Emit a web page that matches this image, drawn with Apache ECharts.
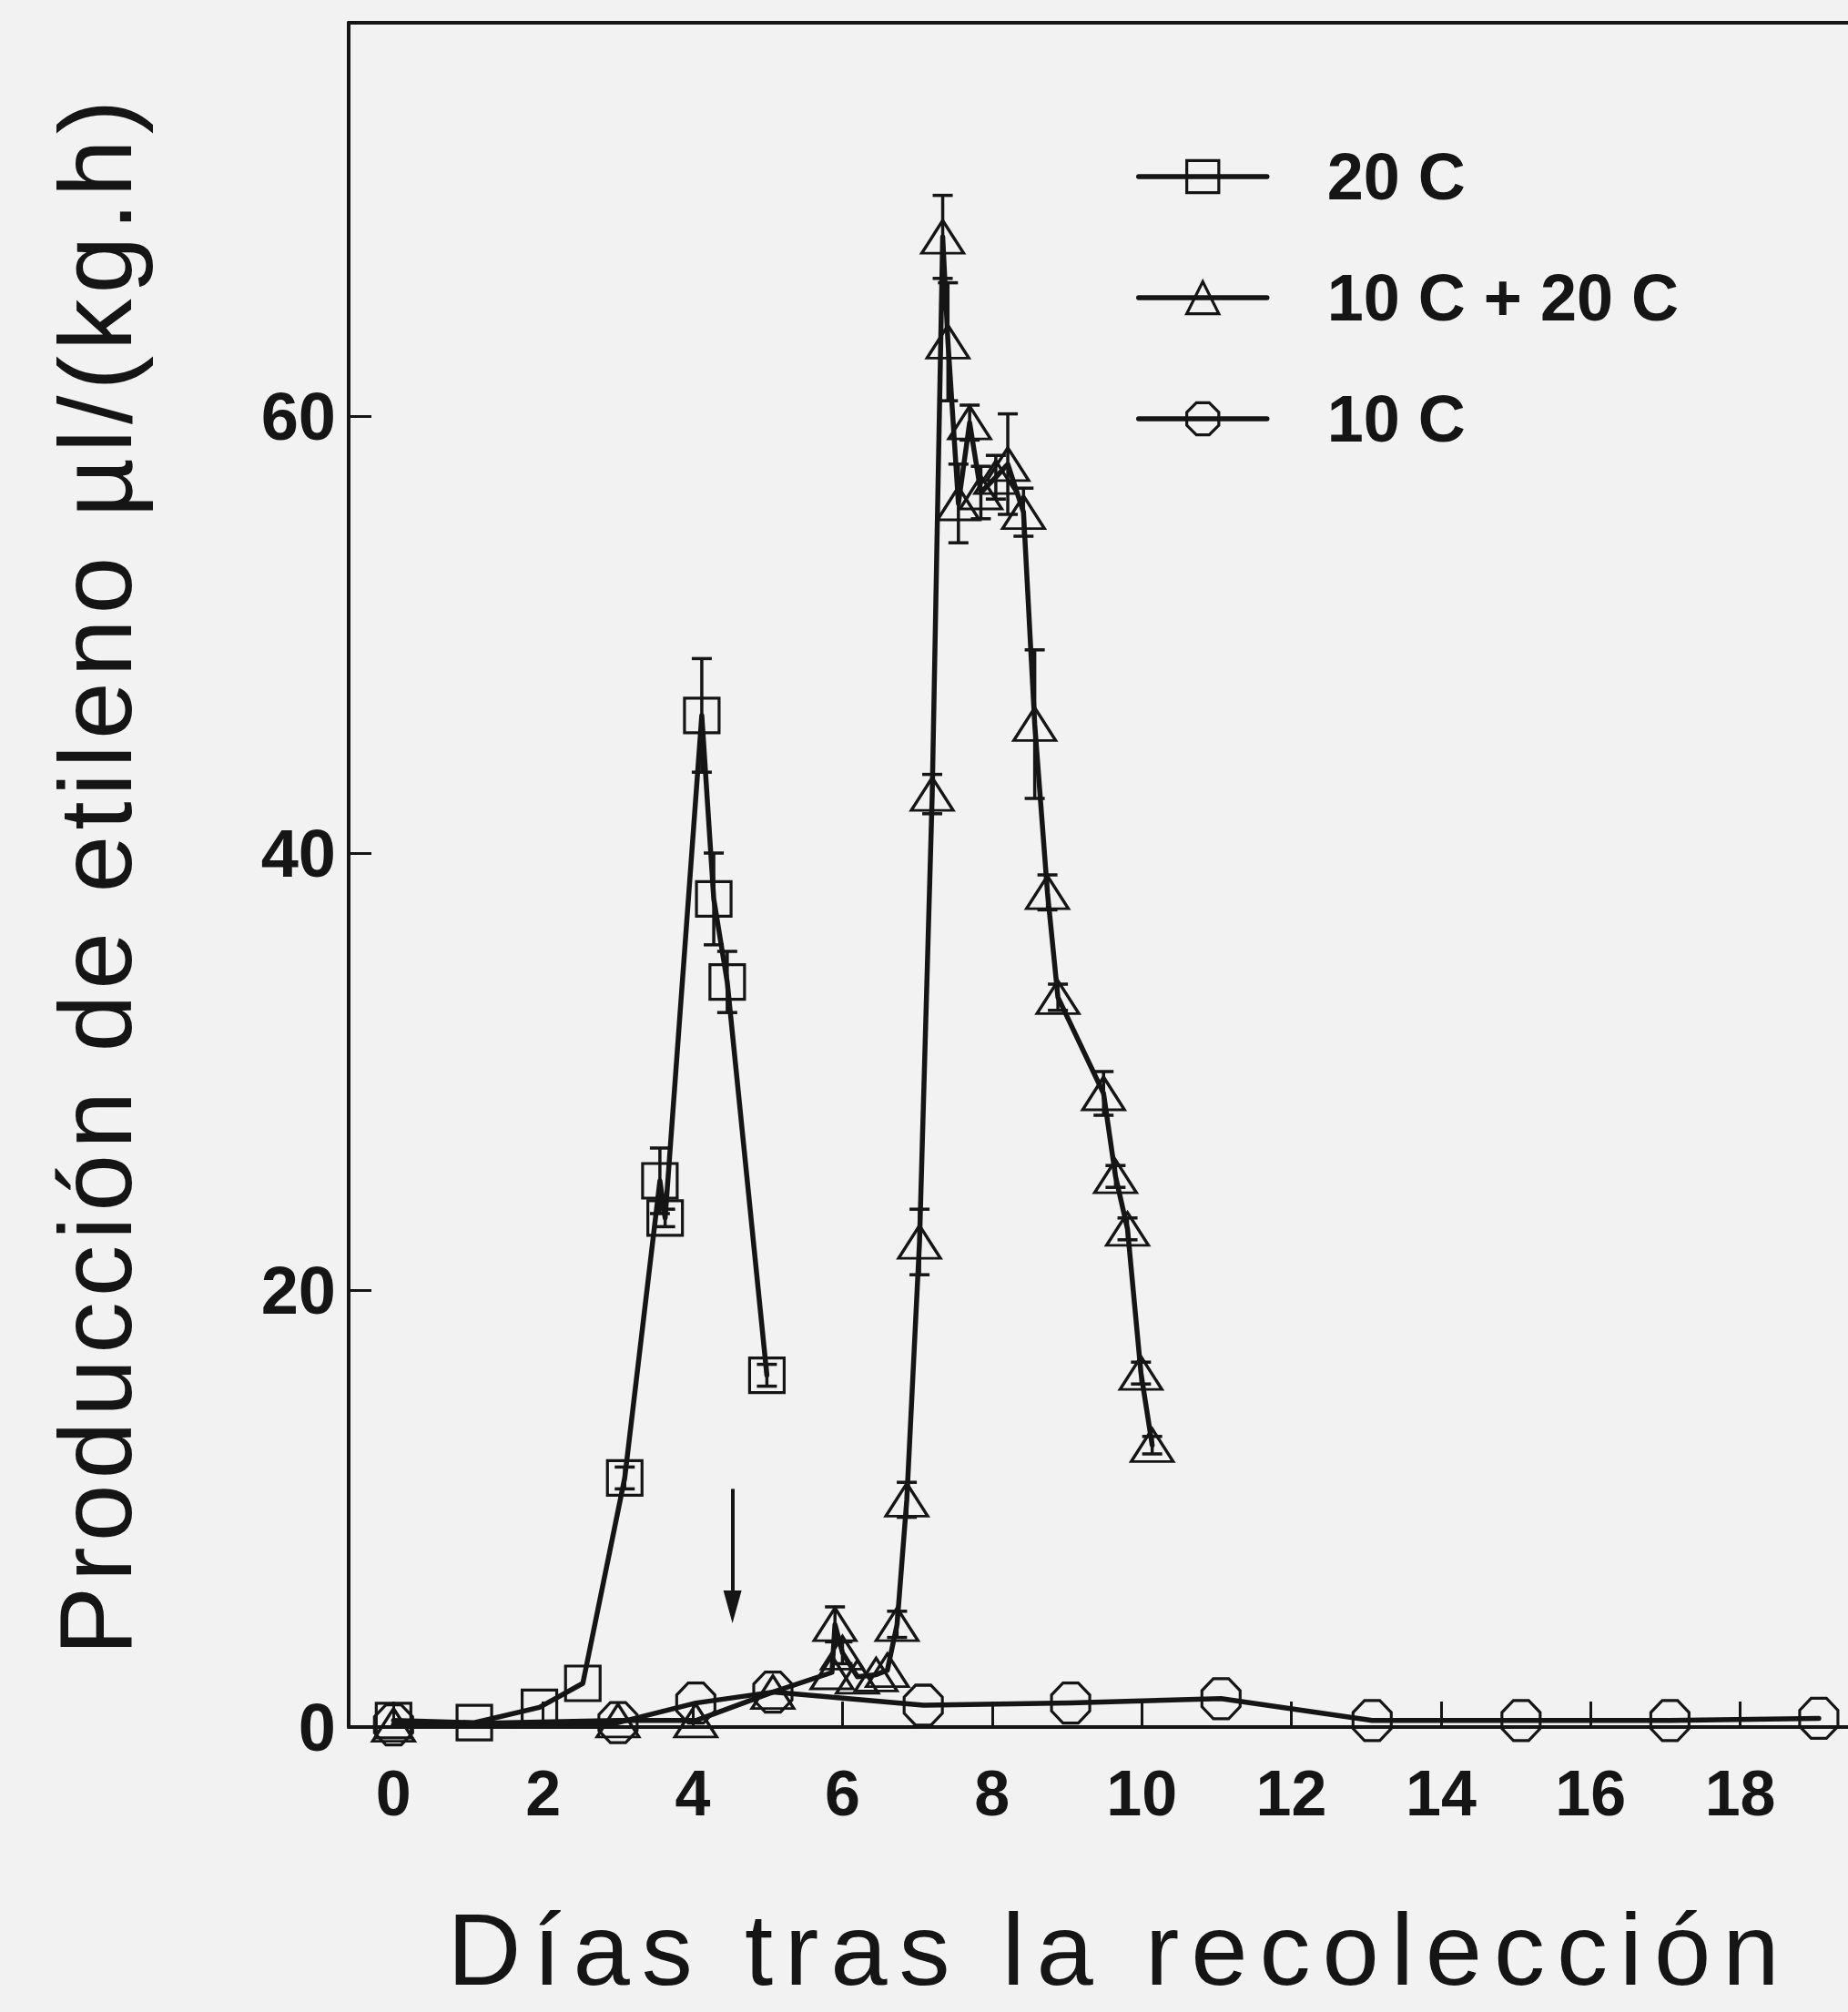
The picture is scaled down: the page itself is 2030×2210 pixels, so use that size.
<!DOCTYPE html>
<html>
<head>
<meta charset="utf-8">
<script src="https://cdn.jsdelivr.net/npm/echarts@6/dist/echarts.min.js"></script>
<style>
  html, body { margin: 0; padding: 0; background: #f2f2f2; }
  #chart { width: 2030px; height: 2210px; }
  /* wide tracking on the two axis titles */
  #chart text[style*="112px"] { letter-spacing: 13px; }
  #chart text[style*="113px"] { letter-spacing: 6px; }
</style>
</head>
<body>
<div id="chart"></div>
<script>
// Ethylene production (µl/(kg.h)) against days after harvest, three storage regimes.

// 20 C
const dias20     = [0, 1.08, 1.95, 2.53, 3.09, 3.56, 3.63, 4.12, 4.28, 4.46, 4.99];
const etileno20  = [0.3, 0.2, 0.9, 2.0, 11.4, 25.0, 23.3, 46.3, 37.9, 34.1, 16.1];
const error20    = [0, 0, 0, 0, 0.5, 1.5, 0.4, 2.6, 2.1, 1.4, 0.5];

// 10 C + 20 C
const dias1020    = [0, 3.0, 4.04, 5.07, 5.86, 5.90, 6.0, 6.2, 6.45, 6.6, 6.73, 6.86, 7.03, 7.2, 7.34,
                     7.41, 7.55, 7.70, 7.85, 8.05, 8.21, 8.42, 8.57, 8.74, 8.88, 9.49, 9.65, 9.81, 9.99, 10.14];
const etileno1020 = [0.1, 0.3, 0.3, 1.6, 2.5, 4.7, 3.4, 2.3, 2.4, 2.6, 4.7, 10.4, 22.2, 42.7, 68.2,
                     63.4, 56.0, 59.7, 56.5, 57.2, 57.8, 55.6, 45.9, 38.2, 33.4, 29.0, 25.2, 22.8, 16.2, 12.9];
const error1020   = [0, 0, 0, 0, 0, 0.8, 0.5, 0, 0, 0, 0.6, 0.8, 1.5, 0.9, 1.9,
                     2.7, 1.8, 0.8, 1.2, 1.0, 2.3, 1.1, 3.4, 0.8, 0.6, 1.0, 0.5, 0.5, 0.5, 0.4];

// 10 C
const dias10    = [0, 3.0, 4.04, 5.07, 7.08, 9.05, 11.06, 13.08, 15.07, 17.06, 19.05];
const etileno10 = [0.1, 0.2, 1.1, 1.6, 1.0, 1.1, 1.3, 0.3, 0.3, 0.3, 0.4];

// axis ticks and labels
const xTicks = [0, 2, 4, 6, 8, 10, 12, 14, 16, 18];
const yTicks = [0, 20, 40, 60];

// transfer from 10 C to 20 C (arrow): day, start value, end value
const traslado = [4.53, 10.9, 5.5];

const INK = '#151515';
const BG = '#f2f2f2';
const LINE_W = 5.5;
const octagon = 'path://M30,0L70,0L100,30L100,70L70,100L30,100L0,70L0,30Z';

const pairs = (xs, ys) => xs.map((x, i) => [x, ys[i]]);
const triples = (xs, ys, es) => xs.map((x, i) => [x, ys[i], es[i]]);

function lineSeries(name, xs, ys, symbol, size) {
  return {
    name, type: 'line', data: pairs(xs, ys),
    symbol, symbolSize: size, showAllSymbol: true,
    lineStyle: { color: INK, width: LINE_W, cap: 'round', join: 'round' },
    itemStyle: { color: 'rgba(0,0,0,0)', borderColor: INK, borderWidth: 3.2 },
    emphasis: { disabled: true },
    animation: false, z: 3
  };
}

// vertical error bar with caps, placed through the cartesian coordinate system
function errorBar(params, api) {
  const x = api.value(0), y = api.value(1), e = api.value(2);
  if (!e) return null;
  const top = api.coord([x, y + e]);
  const bot = api.coord([x, y - e]);
  const half = 11;
  const st = { stroke: INK, lineWidth: 3.5 };
  return {
    type: 'group',
    children: [
      { type: 'line', shape: { x1: top[0], y1: top[1], x2: bot[0], y2: bot[1] }, style: st },
      { type: 'line', shape: { x1: top[0] - half, y1: top[1], x2: top[0] + half, y2: top[1] }, style: st },
      { type: 'line', shape: { x1: bot[0] - half, y1: bot[1], x2: bot[0] + half, y2: bot[1] }, style: st }
    ]
  };
}

function errorSeries(xs, ys, es) {
  return {
    type: 'custom', data: triples(xs, ys, es), renderItem: errorBar,
    encode: { x: 0, y: 1 }, silent: true, animation: false, z: 4
  };
}

const s10 = lineSeries('10 C', dias10, etileno10, octagon, [42, 44]);
s10.markLine = {
  silent: true, animation: false,
  symbol: ['none', 'triangle'],
  lineStyle: { color: INK, width: 4, type: 'solid' },
  label: { show: false },
  emphasis: { disabled: true },
  data: [[
    { coord: [traslado[0], traslado[1]], symbol: 'none' },
    { coord: [traslado[0], traslado[2]], symbol: 'triangle', symbolSize: [20, 36] }
  ]]
};

const chart = echarts.init(document.getElementById('chart'), null, { renderer: 'svg' });
chart.setOption({
  backgroundColor: BG,
  animation: false,
  textStyle: { fontFamily: 'Liberation Sans', color: INK },
  grid: { left: 383, right: -46, top: 25, bottom: 313, containLabel: false, outerBoundsMode: 'none' },
  legend: {
    orient: 'vertical', left: 1243, top: 153,
    itemWidth: 141, itemHeight: 44, itemGap: 61,
    selectedMode: false,
    data: ['20 C', '10 C + 20 C', '10 C'],
    lineStyle: { color: INK, width: LINE_W },
    itemStyle: { color: 'rgba(0,0,0,0)', borderColor: INK, borderWidth: 3.2 },
    textStyle: { fontFamily: 'Liberation Sans', fontWeight: 'bold', fontSize: 72, color: INK, padding: [0, 0, 0, 61] }
  },
  xAxis: [{
    type: 'value', min: -0.6, max: 20, position: 'bottom',
    axisLine: { show: true, onZero: false, lineStyle: { color: INK, width: 4 } },
    axisTick: { show: true, inside: true, length: 28, customValues: xTicks, lineStyle: { color: INK, width: 3 } },
    axisLabel: { customValues: xTicks, margin: 38, fontSize: 70, fontWeight: 'bold', fontFamily: 'Liberation Sans', color: INK },
    splitLine: { show: false },
    name: 'Días tras la recolección', nameLocation: 'middle', nameGap: 188,
    nameTextStyle: { fontFamily: 'Liberation Sans', fontSize: 112, color: INK }
  }, {
    type: 'value', min: -0.6, max: 20, position: 'top',
    axisLine: { show: true, onZero: false, lineStyle: { color: INK, width: 4 } },
    axisTick: { show: false }, axisLabel: { show: false }, splitLine: { show: false }
  }],
  yAxis: {
    type: 'value', min: 0, max: 78, interval: 20,
    axisLine: { show: true, onZero: false, lineStyle: { color: INK, width: 4 } },
    axisTick: { show: true, inside: true, length: 25, customValues: yTicks, lineStyle: { color: INK, width: 3 } },
    axisLabel: { customValues: yTicks, margin: 14, fontSize: 74, fontWeight: 'bold', fontFamily: 'Liberation Sans', color: INK },
    splitLine: { show: false },
    name: 'Producción de etileno µl/(kg.h)', nameLocation: 'middle', nameGap: 222, nameRotate: 90,
    nameTextStyle: { fontFamily: 'Liberation Sans', fontSize: 113, color: INK }
  },
  series: [
    lineSeries('20 C', dias20, etileno20, 'rect', [38, 38]),
    lineSeries('10 C + 20 C', dias1020, etileno1020, 'triangle', [46, 36]),
    s10,
    errorSeries(dias20, etileno20, error20),
    errorSeries(dias1020, etileno1020, error1020)
  ]
});
</script>
</body>
</html>
